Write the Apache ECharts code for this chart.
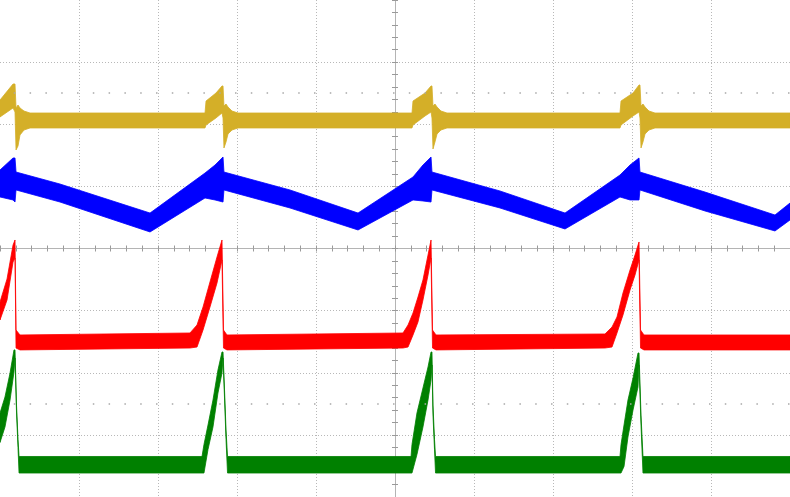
<!DOCTYPE html>
<html>
<head>
<meta charset="utf-8">
<script src="https://cdn.jsdelivr.net/npm/echarts@6/dist/echarts.min.js"></script>
<style>
html,body{margin:0;padding:0;background:#fff;}
#chart{width:790px;height:497px;}
</style>
</head>
<body>
<div id="chart"></div>
<script>
// Time axis in divisions (-5 .. 5), amplitude in divisions (-4 .. 4)
// Each trace: [time, band low, band high] (noise band of the scope trace)
const ch1Yellow = [
  [-5.000, 2.117, 2.390], [-4.835, 2.262, 2.648], [-4.810, 2.197, 2.648], [-4.797, 1.586, 2.262],
  [-4.772, 1.650, 2.310], [-4.747, 1.827, 2.262], [-4.696, 1.907, 2.213], [-4.620, 1.940, 2.181],
  [-2.405, 1.940, 2.181], [-2.392, 1.988, 2.374], [-2.266, 2.101, 2.503], [-2.190, 2.181, 2.616],
  [-2.177, 2.101, 2.616], [-2.165, 1.618, 2.294], [-2.139, 1.715, 2.326], [-2.114, 1.843, 2.278],
  [-2.063, 1.907, 2.213], [-1.987, 1.940, 2.181], [0.215, 1.940, 2.181], [0.228, 1.988, 2.374],
  [0.380, 2.133, 2.503], [0.456, 2.197, 2.616], [0.468, 2.101, 2.616], [0.481, 1.602, 2.294],
  [0.506, 1.715, 2.326], [0.532, 1.843, 2.278], [0.582, 1.907, 2.213], [0.658, 1.940, 2.181],
  [2.848, 1.940, 2.181], [2.861, 1.988, 2.374], [3.013, 2.133, 2.503], [3.089, 2.197, 2.632],
  [3.101, 2.101, 2.632], [3.114, 1.618, 2.294], [3.139, 1.715, 2.326], [3.165, 1.843, 2.278],
  [3.215, 1.907, 2.213], [3.291, 1.940, 2.181], [5.000, 1.940, 2.181]
];
const ch2Blue = [
  [-5.000, 0.829, 1.264], [-4.835, 0.781, 1.457], [-4.810, 0.748, 1.457], [-4.797, 0.942, 1.231],
  [-4.241, 0.748, 1.038], [-3.101, 0.266, 0.571], [-2.405, 0.813, 1.215], [-2.278, 0.781, 1.344],
  [-2.177, 0.748, 1.473], [-2.165, 0.942, 1.231], [-1.329, 0.652, 0.942], [-0.468, 0.298, 0.571],
  [0.228, 0.781, 1.151], [0.354, 0.765, 1.344], [0.456, 0.748, 1.473], [0.468, 0.942, 1.231],
  [1.329, 0.652, 0.926], [2.152, 0.314, 0.571], [2.848, 0.829, 1.183], [2.975, 0.781, 1.344],
  [3.089, 0.781, 1.457], [3.101, 0.942, 1.231], [3.924, 0.604, 0.909], [4.810, 0.282, 0.539],
  [5.000, 0.459, 0.732]
];
const ch3Red = [
  [-5.000, -1.151, -0.861], [-4.911, -0.829, -0.491], [-4.835, -0.217, 0.056], [-4.810, -0.153, 0.137],
  [-4.797, -1.602, -1.312], [-4.747, -1.633, -1.392], [-2.595, -1.602, -1.360], [-2.506, -1.586, -1.231],
  [-2.430, -1.312, -0.942], [-2.342, -0.942, -0.539], [-2.253, -0.555, -0.137], [-2.190, -0.185, 0.137],
  [-2.171, -1.602, -1.312], [-2.127, -1.633, -1.392], [0.101, -1.602, -1.360], [0.165, -1.586, -1.231],
  [0.228, -1.392, -1.038], [0.291, -1.183, -0.781], [0.354, -0.829, -0.507], [0.418, -0.427, -0.105],
  [0.456, -0.153, 0.137], [0.475, -1.602, -1.312], [0.519, -1.633, -1.392], [2.658, -1.602, -1.376],
  [2.747, -1.586, -1.264], [2.810, -1.360, -1.103], [2.886, -1.070, -0.716], [2.975, -0.668, -0.346],
  [3.038, -0.427, -0.105], [3.089, -0.185, 0.105], [3.108, -1.602, -1.312], [3.152, -1.633, -1.392],
  [5.000, -1.633, -1.392]
];
const ch4Green = [
  [-5.000, -3.123, -2.648], [-4.937, -2.873, -2.390], [-4.873, -2.439, -2.004], [-4.823, -1.988, -1.633],
  [-4.810, -1.763, -1.633], [-4.791, -2.632, -2.519], [-4.772, -3.203, -3.074], [-4.759, -3.614, -3.348],
  [-2.443, -3.614, -3.348], [-2.418, -3.614, -3.155], [-2.367, -3.235, -2.841], [-2.304, -2.873, -2.439],
  [-2.241, -2.326, -1.956], [-2.190, -2.004, -1.666], [-2.177, -1.763, -1.666], [-2.158, -2.407, -2.278],
  [-2.139, -3.074, -2.922], [-2.120, -3.614, -3.348], [0.203, -3.614, -3.348], [0.215, -3.614, -3.155],
  [0.278, -3.316, -2.648], [0.354, -2.873, -2.245], [0.418, -2.439, -1.907], [0.456, -2.117, -1.666],
  [0.468, -1.875, -1.666], [0.481, -2.680, -2.519], [0.500, -3.235, -3.074], [0.513, -3.614, -3.348],
  [2.848, -3.614, -3.348], [2.861, -3.614, -3.155], [2.899, -3.509, -2.841], [2.949, -3.034, -2.439],
  [3.013, -2.600, -2.085], [3.076, -2.229, -1.682], [3.089, -1.875, -1.682], [3.114, -2.841, -2.680],
  [3.139, -3.614, -3.348], [5.000, -3.614, -3.348]
];
const dotRows = [2.5, -2.5];

const traceColors = ['#D4AF28', '#0000FF', '#FF0000', '#008000'];

const chart = echarts.init(document.getElementById('chart'), null, {renderer: 'canvas'});

function bandSeries(name, data, color) {
  return {
    name: name,
    type: 'custom',
    xAxisIndex: 0, yAxisIndex: 0,
    data: data,
    encode: {x: 0, y: [1, 2]},
    silent: true,
    renderItem: function (params, api) {
      if (params.dataIndexInside !== 0) return null;
      const n = params.dataInsideLength;
      const top = [], bot = [];
      for (let i = 0; i < n; i++) {
        const t = api.value(0, i);
        top.push(api.coord([t, api.value(2, i)]));
        bot.push(api.coord([t, api.value(1, i)]));
      }
      const pts = top.concat(bot.reverse());
      return {
        type: 'polygon',
        shape: {points: pts},
        style: {fill: color, stroke: color, lineWidth: 0.8}
      };
    }
  };
}

const gridLine = {show: true, showMinLine: false, showMaxLine: false,
  lineStyle: {color: '#b8b8b8', width: 1, type: [1, 2]}};
const tickStyle = {color: '#9a9a9a', width: 1};

function xAx(pos) {
  return {
    type: 'value', min: -5, max: 5, interval: 1, position: pos,
    axisLine: {show: true, onZero: true, onZeroAxisIndex: 0, lineStyle: {color: '#b4b4b4', width: 1}},
    axisTick: {show: true, length: 3, lineStyle: tickStyle},
    minorTick: {show: true, splitNumber: 5, length: 3, lineStyle: tickStyle},
    axisLabel: {show: false},
    splitLine: pos === 'bottom' ? gridLine : {show: false},
    minorSplitLine: {show: false}
  };
}
function yAx(pos) {
  return {
    type: 'value', min: -4, max: 4, interval: 1, position: pos,
    axisLine: {show: true, onZero: true, onZeroAxisIndex: 0, lineStyle: {color: '#b4b4b4', width: 1}},
    axisTick: {show: true, length: 3, lineStyle: tickStyle},
    minorTick: {show: true, splitNumber: 5, length: 3, lineStyle: tickStyle},
    axisLabel: {show: false},
    splitLine: pos === 'left' ? gridLine : {show: false},
    minorSplitLine: {show: false}
  };
}

const option = {
  animation: false,
  backgroundColor: '#ffffff',
  grid: {left: 0, right: 0, top: 0, bottom: 0, containLabel: false},
  xAxis: [xAx('bottom'), xAx('top')],
  yAxis: [yAx('left'), yAx('right')],
  series: [
    {
      name: 'dots', type: 'line', data: [], xAxisIndex: 0, yAxisIndex: 0, silent: true,
      markLine: {
        silent: true, symbol: 'none', label: {show: false},
        lineStyle: {color: '#a8a8a8', width: 1.5, type: [1.5, 14.3], dashOffset: 2},
        data: dotRows.map(v => [{coord: [-5, v]}, {coord: [5, v]}])
      }
    },
    bandSeries('CH1', ch1Yellow, traceColors[0]),
    bandSeries('CH2', ch2Blue, traceColors[1]),
    bandSeries('CH3', ch3Red, traceColors[2]),
    bandSeries('CH4', ch4Green, traceColors[3])
  ]
};
chart.setOption(option);
</script>
</body>
</html>
